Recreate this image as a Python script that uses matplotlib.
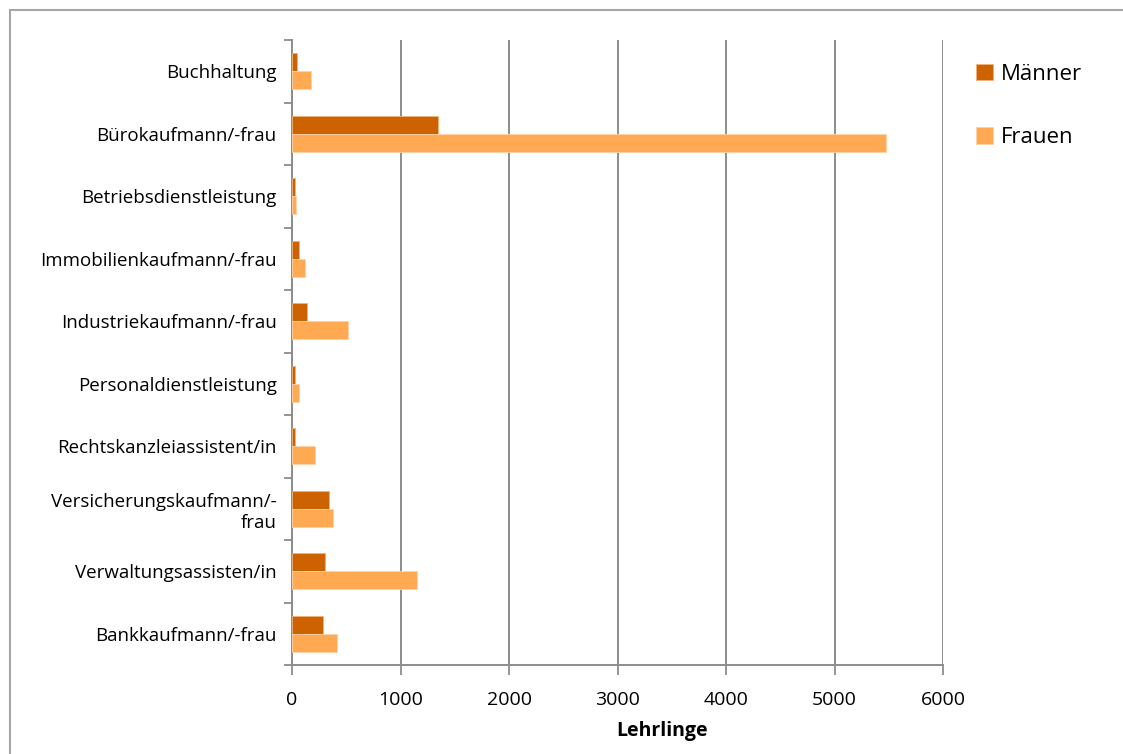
import numpy as np
from matplotlib import pyplot as plt
from matplotlib.lines import Line2D

plt.rcParams['font.family'] = ['Open Sans', 'DejaVu Sans']

# Daten
berufe = ['Buchhaltung', 'Bürokaufmann/-frau', 'Betriebsdienstleistung',
          'Immobilienkaufmann/-frau', 'Industriekaufmann/-frau',
          'Personaldienstleistung', 'Rechtskanzleiassistent/in',
          'Versicherungskaufmann/-\nfrau', 'Verwaltungsassisten/in',
          'Bankkaufmann/-frau']
maenner = [45, 1343, 25, 65, 140, 28, 25, 344, 307, 289]
frauen = [175, 5475, 40, 120, 513, 65, 213, 381, 1155, 418]
x_ticks = [0, 1000, 2000, 3000, 4000, 5000, 6000]

farbe_m = '#CC6200'
farbe_f = '#FFA952'

fig = plt.figure(figsize=(11.23, 7.54), dpi=100)
ax = fig.add_axes([292 / 1123, 89 / 754, 651 / 1123, 625 / 754])

n = len(berufe)
pos = np.arange(n)[::-1]
h = 0.29
ax.barh(pos + h / 2, maenner, height=h, color=farbe_m, edgecolor='#F0B27A',
        linewidth=0.6, label='Männer', zorder=3)
ax.barh(pos - h / 2, frauen, height=h, color=farbe_f, edgecolor='#FFD2A8',
        linewidth=0.6, label='Frauen', zorder=3)

ax.set_xlim(0, 6000)
ax.set_ylim(-0.5, n - 0.5)
ax.set_xticks(x_ticks)
ax.set_xticklabels([str(t) for t in x_ticks], fontsize=14)
ax.set_yticks(pos)
ax.set_yticklabels(berufe, fontsize=13.5)
ax.set_yticks(np.arange(n + 1) - 0.5, minor=True)
ax.tick_params(axis='y', which='major', length=0, pad=11)
ax.tick_params(axis='y', which='minor', length=6, width=1.3, color='#8c8c8c')
ax.tick_params(axis='x', length=7, width=1.3, color='#8c8c8c', pad=12)

ax.grid(axis='x', color='#8c8c8c', linewidth=1.4, zorder=0)
ax.set_axisbelow(True)
for s in ['top', 'right']:
    ax.spines[s].set_visible(False)
for s in ['left', 'bottom']:
    ax.spines[s].set_color('#8c8c8c')
    ax.spines[s].set_linewidth(1.4)

ax.set_xlabel('Lehrlinge', fontsize=14, fontweight='bold')
ax.xaxis.set_label_coords((662 - 292) / 651, -0.09)

# Legende
ax.legend(loc='upper left', bbox_to_anchor=(956 / 1123, 1 - 44 / 754),
          bbox_transform=fig.transFigure, frameon=False, fontsize=16,
          handlelength=0.75, handleheight=0.75, handletextpad=0.35,
          labelspacing=1.9)

# Rahmen
fig.add_artist(Line2D([10 / 1123, 10 / 1123], [0, 1 - 10 / 754],
                      transform=fig.transFigure, color='#a6a6a6', lw=1.5))
fig.add_artist(Line2D([10 / 1123, 1], [1 - 10 / 754, 1 - 10 / 754],
                      transform=fig.transFigure, color='#a6a6a6', lw=1.5))

fig.savefig('out.png', dpi=100)
